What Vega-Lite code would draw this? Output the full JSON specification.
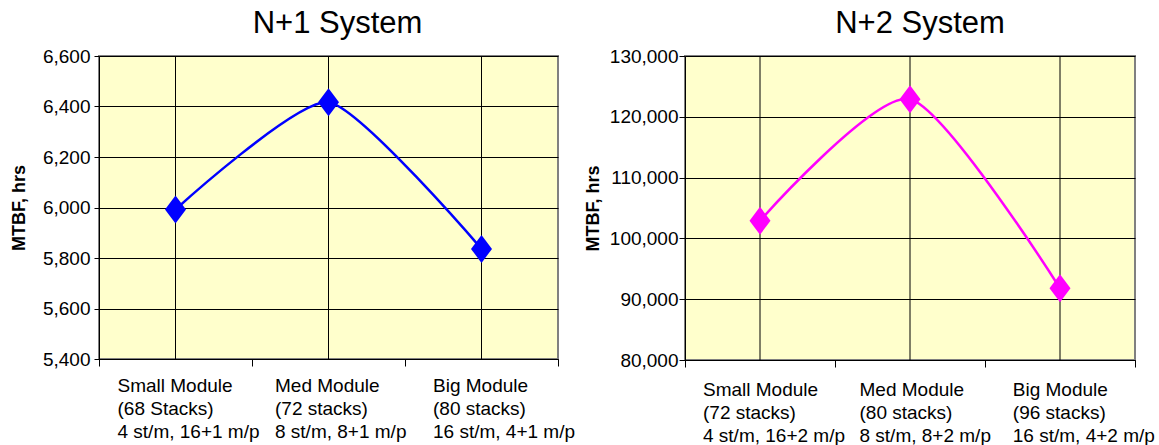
{
  "$schema": "https://vega.github.io/schema/vega-lite/v6.json",
  "background": "white",
  "padding": {"left": 9, "top": 7, "right": 0, "bottom": 0},
  "autosize": {"type": "pad"},
  "bounds": "flush",
  "spacing": 127,
  "config": {
    "font": "Liberation Sans",
    "view": {"fill": "#FFFFCC", "stroke": "#808080", "strokeWidth": 2},
    "axis": {
      "labelFont": "Liberation Sans", "labelFontSize": 19, "labelColor": "black",
      "titleFont": "Liberation Sans", "titleFontSize": 18, "titleFontWeight": "bold", "titleColor": "black",
      "domainColor": "black", "domainWidth": 1, "tickColor": "black", "tickWidth": 1,
      "gridColor": "black", "gridWidth": 1, "gridOpacity": 1
    },
    "title": {"font": "Liberation Sans", "fontSize": 31, "fontWeight": "normal", "color": "black", "anchor": "middle"}
  },
  "datasets": {
    "n1": [
      {"module": "Small Module|(68 Stacks)|4 st/m, 16+1 m/p", "mtbf": 5992},
      {"module": "Med Module|(72 stacks)|8 st/m, 8+1 m/p", "mtbf": 6417},
      {"module": "Big Module|(80 stacks)|16 st/m, 4+1 m/p", "mtbf": 5836}
    ],
    "n2": [
      {"module": "Small Module|(72 stacks)|4 st/m, 16+2 m/p", "mtbf": 102900},
      {"module": "Med Module|(80 stacks)|8 st/m, 8+2 m/p", "mtbf": 122900},
      {"module": "Big Module|(96 stacks)|16 st/m, 4+2 m/p", "mtbf": 91800}
    ]
  },
  "hconcat": [
    {
      "width": 459, "height": 303,
      "title": {"text": "N+1 System", "dx": 9, "offset": 7},
      "data": {"name": "n1"},
      "encoding": {
        "x": {
          "field": "module", "type": "nominal", "sort": null,
          "scale": {"type": "band", "paddingInner": 0, "paddingOuter": 0},
          "axis": {
            "title": null, "tickBand": "extent", "grid": false, "tickSize": 7, "labelAngle": 0,
            "labelAlign": "left", "labelBaseline": "top", "labelPadding": 10, "labelLineHeight": 23,
            "labelOverlap": false, "labelFlush": false, "labelBound": false,
            "labelExpr": "split(datum.label, '|')",
            "labelOffset": {"condition": [{"test": "datum.index < 0.25", "value": -58.5}, {"test": "datum.index < 0.75", "value": -54}], "value": -49}
          }
        }
      },
      "layer": [
        {"mark": {"type": "rule", "color": "black", "strokeWidth": 1}},
        {
          "mark": {"type": "line", "color": "#0000FF", "strokeWidth": 2.5, "interpolate": "cardinal", "tension": 0.4},
          "encoding": {
            "y": {"field": "mtbf", "type": "quantitative",
              "scale": {"domain": [5400, 6600], "zero": false, "nice": false},
              "axis": {"title": "MTBF, hrs", "values": [5400, 5600, 5800, 6000, 6200, 6400, 6600], "format": ",d", "tickSize": 5, "labelPadding": 4, "titlePadding": 14}}
          }
        },
        {
          "mark": {"type": "point", "filled": true, "opacity": 1, "color": "#0000FF", "shape": "M0,-1.33L1,0L0,1.33L-1,0Z", "size": 441, "strokeWidth": 0},
          "encoding": {
            "y": {"field": "mtbf", "type": "quantitative",
              "scale": {"domain": [5400, 6600], "zero": false, "nice": false},
              "axis": {"title": "MTBF, hrs", "values": [5400, 5600, 5800, 6000, 6200, 6400, 6600], "format": ",d", "tickSize": 5, "labelPadding": 4, "titlePadding": 14}}
          }
        }
      ]
    },
    {
      "width": 450, "height": 304,
      "title": {"text": "N+2 System", "dx": 10, "offset": 7},
      "data": {"name": "n2"},
      "encoding": {
        "x": {
          "field": "module", "type": "nominal", "sort": null,
          "scale": {"type": "band", "paddingInner": 0, "paddingOuter": 0},
          "axis": {
            "title": null, "tickBand": "extent", "grid": false, "tickSize": 7, "labelAngle": 0,
            "labelAlign": "left", "labelBaseline": "top", "labelPadding": 13, "labelLineHeight": 23,
            "labelOverlap": false, "labelFlush": false, "labelBound": false,
            "labelExpr": "split(datum.label, '|')",
            "labelOffset": {"condition": [{"test": "datum.index < 0.25", "value": -57.5}, {"test": "datum.index < 0.75", "value": -51}], "value": -47.7}
          }
        }
      },
      "layer": [
        {"mark": {"type": "rule", "color": "black", "strokeWidth": 1}},
        {
          "mark": {"type": "line", "color": "#FF00FF", "strokeWidth": 2.5, "interpolate": "cardinal", "tension": 0.3},
          "encoding": {
            "y": {"field": "mtbf", "type": "quantitative",
              "scale": {"domain": [80000, 130000], "zero": false, "nice": false},
              "axis": {"title": "MTBF, hrs", "values": [80000, 90000, 100000, 110000, 120000, 130000], "format": ",d", "tickSize": 6, "labelPadding": 1, "titlePadding": 7}}
          }
        },
        {
          "mark": {"type": "point", "filled": true, "opacity": 1, "color": "#FF00FF", "shape": "M0,-1.33L1,0L0,1.33L-1,0Z", "size": 441, "strokeWidth": 0},
          "encoding": {
            "y": {"field": "mtbf", "type": "quantitative",
              "scale": {"domain": [80000, 130000], "zero": false, "nice": false},
              "axis": {"title": "MTBF, hrs", "values": [80000, 90000, 100000, 110000, 120000, 130000], "format": ",d", "tickSize": 6, "labelPadding": 1, "titlePadding": 7}}
          }
        }
      ]
    }
  ]
}
